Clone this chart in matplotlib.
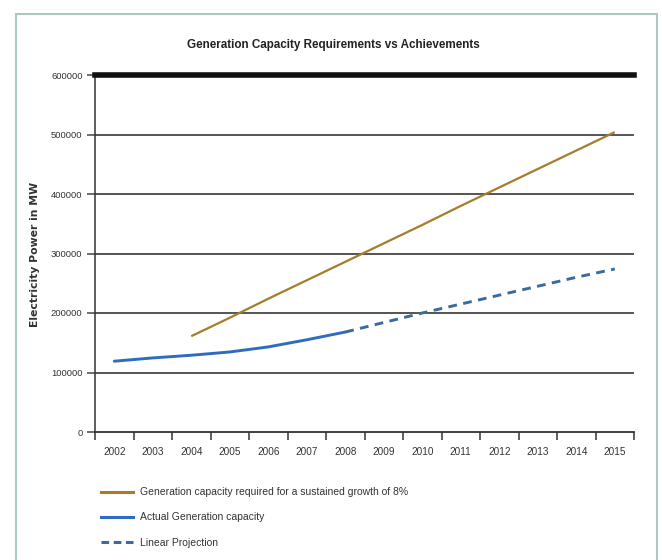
import numpy as np
import matplotlib
matplotlib.use("Agg")
import matplotlib.pyplot as plt
from matplotlib.patches import Rectangle
from matplotlib.lines import Line2D

# Dane wykresu
years = ["2002", "2003", "2004", "2005", "2006", "2007", "2008",
         "2009", "2010", "2011", "2012", "2013", "2014", "2015"]

# wymagana moc (2004-2015)
required_years = years[2:]
required_mw = [161000, 192000, 224000, 255000, 286000, 317000,
               348000, 380000, 411000, 442000, 473000, 504000]

# rzeczywista moc (2002-2008)
actual_years = years[:7]
actual_mw = [119000, 124500, 129000, 134500, 143000, 155000, 168000]

# projekcja liniowa (2008-2015)
proj_years = years[6:]
proj_mw = [168000, 184000, 200000, 215000, 230000, 245000, 260000, 274000]

y_ticks = [0, 100000, 200000, 300000, 400000, 500000, 600000]

legend_labels = ["Generation capacity required for a sustained growth of 8%",
                 "Actual Generation capacity",
                 "Linear Projection"]

plt.rcParams["font.family"] = ["Liberation Sans", "DejaVu Sans"]

W, H = 662, 560
fig = plt.figure(figsize=(W / 100, H / 100), dpi=100)

# ramka wokół wykresu
fig.patches.append(Rectangle((16 / W, 0 - 0.05), (657 - 16) / W, 1 - 14 / H + 0.05,
                             transform=fig.transFigure, fill=False,
                             edgecolor="#a9c9c1", linewidth=1.5))

ax = fig.add_axes([95 / W, 1 - 432 / H, (634 - 95) / W, (432 - 75) / H])

idx = {y: i for i, y in enumerate(years)}
brown = "#a57d2c"
blue = "#2f6cc0"
dash_blue = "#3b6b9d"

ax.plot([idx[y] for y in required_years], required_mw, color=brown, lw=1.6,
        solid_capstyle="butt")
ax.plot([idx[y] for y in actual_years], actual_mw, color=blue, lw=2.1,
        solid_capstyle="round")
ax.plot([idx[y] for y in proj_years], proj_mw, color=dash_blue, lw=2.1,
        linestyle=(0, (3, 2.2)))

ax.set_xlim(-0.5, len(years) - 0.5)
ax.set_ylim(0, 600000)

# siatka i osie
for v in y_ticks[1:-1]:
    ax.axhline(v, color="#474747", lw=1.3, zorder=0)
ax.axhline(600000, color="#111111", lw=4, clip_on=False, zorder=3)

ax.set_yticks(y_ticks)
ax.set_yticklabels([str(v) for v in y_ticks], fontsize=6.8, color="#333333")
ax.tick_params(axis="y", length=6, width=1.1, color="#474747", pad=3)

ax.set_xticks(np.arange(-0.5, len(years), 1.0))
ax.set_xticklabels([])
ax.set_xticks(np.arange(len(years)), minor=True)
ax.set_xticklabels(years, minor=True, fontsize=7.2, color="#333333")
ax.tick_params(axis="x", which="major", length=6, width=1.1, color="#333333")
ax.tick_params(axis="x", which="minor", length=0, pad=11)

for s in ["top", "right"]:
    ax.spines[s].set_visible(False)
ax.spines["left"].set_color("#333333")
ax.spines["bottom"].set_color("#333333")
ax.spines["left"].set_linewidth(1.1)
ax.spines["bottom"].set_linewidth(1.3)

# tytuł i opis osi
fig.text(333 / W, 1 - 45 / H, "Generation Capacity Requirements vs Achievements",
         ha="center", va="center", fontsize=8.4, fontweight="bold", color="#222222")
fig.text(35 / W, 1 - 254 / H, "Electricity Power in MW", rotation=90,
         ha="center", va="center", fontsize=7.8, fontweight="bold",
         color="#333333", family=["DejaVu Sans"])

# legenda
handles = [Line2D([], [], color=brown, lw=2.2),
           Line2D([], [], color=blue, lw=2.2),
           Line2D([], [], color=dash_blue, lw=2.2, linestyle=(0, (2.5, 1.5)))]
fig.legend(handles, legend_labels, loc="upper left",
           bbox_to_anchor=(92 / W, 1 - 478 / H), frameon=False,
           fontsize=7.5, handlelength=3.0, handletextpad=0.7,
           labelspacing=1.45, labelcolor="#333333")

fig.savefig("out.png", dpi=100)
